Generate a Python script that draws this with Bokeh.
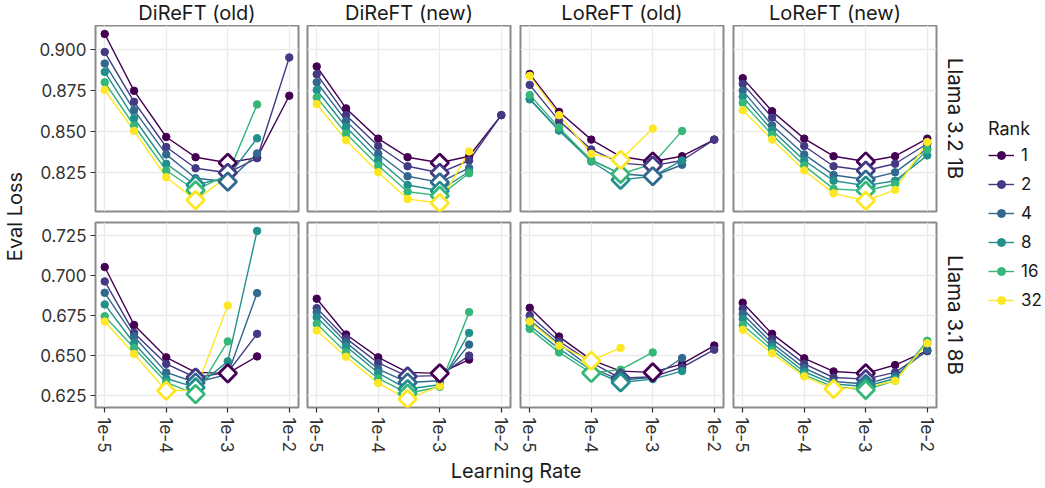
import math
import numpy as np
from bokeh.plotting import figure
from bokeh.layouts import gridplot, row, column
from bokeh.models import (Range1d, FixedTicker, PrintfTickFormatter, CustomJSTickFormatter,
                          Legend, LegendItem)
from bokeh.core.properties import value
from bokeh.embed import file_html
from bokeh.resources import INLINE

# ---------------- data ----------------
learning_rates = [1e-5, 3e-5, 1e-4, 3e-4, 1e-3, 3e-3, 1e-2]
ranks = [1, 2, 4, 8, 16, 32]
methods = ["DiReFT (old)", "DiReFT (new)", "LoReFT (old)", "LoReFT (new)"]
models = ["Llama 3.2 1B", "Llama 3.1 8B"]
x_tick_values = [1e-5, 1e-4, 1e-3, 1e-2]
y_ticks_1b = [0.825, 0.850, 0.875, 0.900]
y_ticks_8b = [0.625, 0.650, 0.675, 0.700, 0.725]

# rows = ranks (1, 2, 4, 8, 16, 32); columns = learning rates
loss_1b_direft_old = [
    [0.9096, 0.8750, 0.8469, 0.8346, 0.8312, 0.8343, 0.8720],
    [0.8986, 0.8683, 0.8408, 0.8279, 0.8251, 0.8340, 0.8953],
    [0.8916, 0.8632, 0.8363, 0.8218, 0.8197, 0.8369, None],
    [0.8865, 0.8583, 0.8306, 0.8177, 0.8225, 0.8461, None],
    [0.8802, 0.8539, 0.8265, 0.8145, 0.8240, 0.8667, None],
    [0.8755, 0.8506, 0.8224, 0.8085, 0.8230, None, None],
]
loss_1b_direft_new = [
    [0.8898, 0.8643, 0.8459, 0.8346, 0.8312, 0.8352, 0.8602],
    [0.8851, 0.8602, 0.8414, 0.8291, 0.8251, 0.8326, 0.8602],
    [0.8802, 0.8567, 0.8367, 0.8230, 0.8193, 0.8281, None],
    [0.8755, 0.8530, 0.8330, 0.8177, 0.8142, 0.8259, None],
    [0.8710, 0.8490, 0.8295, 0.8136, 0.8112, 0.8248, None],
    [0.8669, 0.8449, 0.8254, 0.8091, 0.8067, 0.8381, None],
]
loss_1b_loreft_old = [
    [0.8853, 0.8622, 0.8453, 0.8350, 0.8320, 0.8352, 0.8453],
    [0.8786, 0.8567, 0.8393, 0.8310, 0.8295, 0.8326, 0.8453],
    [0.8700, 0.8510, 0.8330, 0.8245, 0.8230, 0.8300, None],
    [0.8698, 0.8508, 0.8320, 0.8208, 0.8230, 0.8326, None],
    [0.8724, 0.8526, 0.8326, 0.8244, 0.8305, 0.8506, None],
    [0.8841, 0.8602, 0.8367, 0.8330, 0.8520, None, None],
]
loss_1b_loreft_new = [
    [0.8827, 0.8626, 0.8459, 0.8352, 0.8320, 0.8352, 0.8459],
    [0.8792, 0.8588, 0.8414, 0.8291, 0.8265, 0.8306, 0.8428],
    [0.8751, 0.8540, 0.8363, 0.8238, 0.8210, 0.8254, 0.8398],
    [0.8714, 0.8510, 0.8326, 0.8203, 0.8173, 0.8203, 0.8357],
    [0.8677, 0.8483, 0.8295, 0.8153, 0.8142, 0.8183, 0.8392],
    [0.8632, 0.8453, 0.8265, 0.8126, 0.8081, 0.8147, 0.8438],
]
loss_8b_direft_old = [
    [0.7051, 0.6689, 0.6486, 0.6392, 0.6386, 0.6492, None],
    [0.6961, 0.6639, 0.6445, 0.6360, 0.6392, 0.6633, None],
    [0.6890, 0.6616, 0.6392, 0.6329, 0.6380, 0.6888, None],
    [0.6817, 0.6574, 0.6354, 0.6298, 0.6461, 0.7277, None],
    [0.6743, 0.6545, 0.6329, 0.6256, 0.6586, None, None],
    [0.6710, 0.6507, 0.6277, 0.6282, 0.6810, None, None],
]
loss_8b_direft_new = [
    [0.6853, 0.6629, 0.6486, 0.6392, 0.6386, 0.6472, None],
    [0.6794, 0.6605, 0.6451, 0.6367, 0.6372, 0.6497, None],
    [0.6769, 0.6580, 0.6413, 0.6329, 0.6340, 0.6566, None],
    [0.6737, 0.6555, 0.6388, 0.6288, 0.6315, 0.6639, None],
    [0.6696, 0.6517, 0.6354, 0.6260, 0.6302, 0.6769, None],
    [0.6654, 0.6490, 0.6325, 0.6225, 0.6308, None, None],
]
loss_8b_loreft_old = [
    [0.6796, 0.6616, 0.6470, 0.6400, 0.6392, 0.6445, 0.6560],
    [0.6748, 0.6587, 0.6455, 0.6355, 0.6365, 0.6423, 0.6534],
    [0.6720, 0.6570, 0.6420, 0.6344, 0.6360, 0.6482, None],
    [0.6685, 0.6539, 0.6407, 0.6329, 0.6350, 0.6400, None],
    [0.6664, 0.6517, 0.6388, 0.6409, 0.6517, None, None],
    [0.6710, 0.6559, 0.6465, 0.6545, None, None, None],
]
loss_8b_loreft_new = [
    [0.6828, 0.6633, 0.6480, 0.6398, 0.6386, 0.6438, 0.6528],
    [0.6790, 0.6601, 0.6445, 0.6360, 0.6350, 0.6392, 0.6525],
    [0.6758, 0.6574, 0.6419, 0.6335, 0.6319, 0.6371, 0.6534],
    [0.6727, 0.6553, 0.6396, 0.6319, 0.6304, 0.6354, 0.6574],
    [0.6689, 0.6532, 0.6377, 0.6302, 0.6283, 0.6340, 0.6590],
    [0.6658, 0.6511, 0.6367, 0.6288, 0.6298, 0.6340, 0.6574],
]

panel_data = [
    [loss_1b_direft_old, loss_1b_direft_new, loss_1b_loreft_old, loss_1b_loreft_new],
    [loss_8b_direft_old, loss_8b_direft_new, loss_8b_loreft_old, loss_8b_loreft_new],
]
row_y_ticks = [y_ticks_1b, y_ticks_8b]

# ---------------- style ----------------
FONT = "Inter"
COLORS = ["#440154", "#443A83", "#31688E", "#21908C", "#35B779", "#FDE725"]
GRID_COLOR = "#EBEBEB"
BORDER_COLOR = "#8A8A8A"
TEXT_COLOR = "#1A1A1A"
TICK_TEXT = "#333333"

FW = 203
FH = [186, 185]
LEFT_W, TOP_H, BOTTOM_H = 30, 25, 31
COL_BORDERS = [(65, 5), (4, 5), (5, 5), (5, 5)]
ROW_BORDERS = [(0, 5), (6, 50)]
RIGHT_W = 104

x_lo = 10 ** (math.log10(learning_rates[0]) - 0.05 * 3)
x_hi = 10 ** (math.log10(learning_rates[-1]) + 0.05 * 3)


def to_array(vals):
    return np.array([np.nan if v is None else v for v in vals], dtype=float)


def text_fig(w, h):
    f = figure(width=w, height=h, x_range=Range1d(0, w), y_range=Range1d(0, h),
               x_axis_location=None, y_axis_location=None, min_border=0, title=None,
               toolbar_location=None, output_backend="svg", outline_line_color=None,
               background_fill_color="white", border_fill_color="white")
    f.grid.visible = False
    return f


grid_rows = []
for ri in range(2):
    allv = np.concatenate([to_array(v) for panel in panel_data[ri] for v in panel])
    vmin, vmax = np.nanmin(allv), np.nanmax(allv)
    pad = 0.05 * (vmax - vmin)
    yr = Range1d(vmin - pad, vmax + pad)
    figs = []
    for ci in range(4):
        bl, br = COL_BORDERS[ci]
        bt, bb = ROW_BORDERS[ri]
        p = figure(frame_width=FW, frame_height=FH[ri], x_axis_type="log",
                   x_range=Range1d(x_lo, x_hi), y_range=yr, title=None,
                   min_border_left=bl, min_border_right=br,
                   min_border_top=bt, min_border_bottom=bb,
                   toolbar_location=None, output_backend="svg",
                   background_fill_color="white", border_fill_color="white")
        xt = FixedTicker(ticks=x_tick_values, minor_ticks=[])
        yt = FixedTicker(ticks=row_y_ticks[ri], minor_ticks=[])
        p.xaxis.ticker = xt
        p.yaxis.ticker = yt
        p.xgrid.ticker = xt
        p.ygrid.ticker = yt
        p.grid.grid_line_color = GRID_COLOR
        p.grid.grid_line_width = 1.3
        p.outline_line_color = BORDER_COLOR
        p.outline_line_width = 2
        for ax in (p.xaxis[0], p.yaxis[0]):
            ax.axis_line_color = None
            ax.major_tick_in = 0
            ax.major_tick_out = 5
            ax.minor_tick_line_color = None
            ax.major_tick_line_color = "#333333"
            ax.major_tick_line_width = 1.2
            ax.major_label_text_font = FONT
            ax.major_label_text_font_size = "17px"
            ax.major_label_text_color = TICK_TEXT
        p.yaxis.formatter = PrintfTickFormatter(format="%.3f")
        p.yaxis.major_label_standoff = 4
        p.xaxis.formatter = CustomJSTickFormatter(
            code="return '1e' + Math.round(Math.log10(tick));")
        p.xaxis.major_label_orientation = "vertical"
        p.xaxis.major_label_standoff = 5
        if ci != 0:
            p.yaxis.visible = False
        if ri != 1:
            p.xaxis.visible = False

        data = panel_data[ri][ci]
        lr = np.array(learning_rates)
        series = [to_array(v) for v in data]
        for k, vals in enumerate(series):
            m = ~np.isnan(vals)
            p.line(lr[m], vals[m], line_color=COLORS[k], line_width=1.4)
        for k, vals in enumerate(series):
            m = ~np.isnan(vals)
            p.scatter(lr[m], vals[m], size=7.5, fill_color=COLORS[k], line_color=COLORS[k])
        for k, vals in enumerate(series):
            j = int(np.nanargmin(vals))
            p.scatter([lr[j]], [vals[j]], marker="square", angle=math.pi / 4, size=12.5,
                      fill_color="white", line_color=COLORS[k], line_width=2.8)
        figs.append(p)
    grid_rows.append(figs)

grid = gridplot(grid_rows, toolbar_location=None)

col_widths = [COL_BORDERS[c][0] + FW + COL_BORDERS[c][1] for c in range(4)]
row_heights = [ROW_BORDERS[r][0] + FH[r] + ROW_BORDERS[r][1] for r in range(2)]
grid_h = sum(row_heights)
total_w = LEFT_W + sum(col_widths) + RIGHT_W

# frame positions
frame_left = []
acc = LEFT_W
for c in range(4):
    frame_left.append(acc + COL_BORDERS[c][0])
    acc += col_widths[c]
frame_centers_x = [fl + FW / 2 for fl in frame_left]
row_centers_from_top = [ROW_BORDERS[0][0] + FH[0] / 2,
                        row_heights[0] + ROW_BORDERS[1][0] + FH[1] / 2]

# top strip titles
top = text_fig(total_w, TOP_H)
top.text(x=frame_centers_x, y=[12.5] * 4, text=methods, text_font=value(FONT),
         text_font_size="20px", text_align="center", text_baseline="middle",
         text_color=TEXT_COLOR)

# left axis title
left = text_fig(LEFT_W, grid_h)
frames_mid = (ROW_BORDERS[0][0] + row_heights[0] + ROW_BORDERS[1][0] + FH[1]) / 2
left.text(x=[14.5], y=[grid_h - frames_mid], text=["Eval Loss"], text_font=value(FONT),
          text_font_size="20px", text_align="center", text_baseline="middle",
          angle=math.pi / 2, text_color=TEXT_COLOR)

# right strip labels + legend
right = text_fig(RIGHT_W, grid_h)
right.text(x=[14, 14], y=[grid_h - c for c in row_centers_from_top], text=models,
           text_font=value(FONT), text_font_size="20.5px", text_align="center",
           text_baseline="middle", angle=-math.pi / 2, text_color=TEXT_COLOR)
items = []
for k, rk in enumerate(ranks):
    rl = right.line([-60, -50], [-60, -60], line_color=COLORS[k], line_width=1.4)
    rp = right.scatter([-55], [-60], size=7.5, fill_color=COLORS[k], line_color=COLORS[k])
    items.append(LegendItem(label=str(rk), renderers=[rl, rp]))
legend = Legend(items=items, location=(47, 147), title="Rank",
                title_text_font=FONT, title_text_font_size="18px", title_text_font_style="normal",
                title_text_color=TEXT_COLOR, title_standoff=6,
                label_text_font=FONT, label_text_font_size="17px", label_text_color=TEXT_COLOR,
                glyph_width=26, glyph_height=20, label_height=20, spacing=9, label_standoff=7,
                padding=0, margin=0, border_line_color=None, background_fill_alpha=0)
right.add_layout(legend)

# bottom axis title
bottom = text_fig(total_w, BOTTOM_H)
bottom.text(x=[(frame_left[0] + frame_left[3] + FW) / 2], y=[17.5], text=["Learning Rate"],
            text_font=value(FONT), text_font_size="20px", text_align="center",
            text_baseline="middle", text_color=TEXT_COLOR)

layout = column(top, row(left, grid, right), bottom)

open("out.html", "w").write(file_html(layout, INLINE))
